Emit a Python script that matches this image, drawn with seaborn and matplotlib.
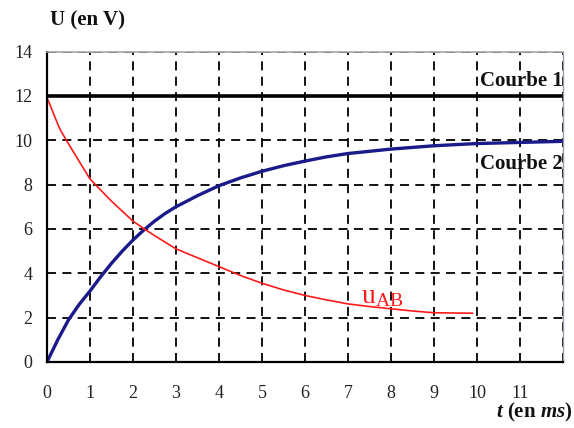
import numpy as np
import pandas as pd
import matplotlib
matplotlib.use('Agg')
import matplotlib.pyplot as plt
import seaborn as sns

# values
t_courbe1 = [0, 12]
u_courbe1 = [12, 12]

t_courbe2 = [0, 0.25, 0.5, 0.75, 1, 1.25, 1.5, 1.75, 2, 2.25, 2.5, 2.75,
             3, 3.5, 4, 4.5, 5, 5.5, 6, 6.5, 7, 7.5, 8, 9, 10, 11, 12]
u_courbe2 = [0, 1.0, 1.9, 2.6, 3.2, 3.85, 4.45, 5.0, 5.5, 5.95, 6.35, 6.7,
             7.0, 7.5, 7.95, 8.3, 8.6, 8.85, 9.06, 9.25, 9.4, 9.5, 9.6,
             9.75, 9.85, 9.9, 9.95]

t_uab = [0, 0.05, 0.15, 0.3, 0.45, 0.7, 1, 1.25, 1.5, 1.75, 2, 2.3, 2.5,
         3, 3.5, 4, 4.5, 5, 5.5, 6, 6.5, 7, 7.5, 8, 8.5, 9, 9.9]
u_uab = [11.9, 11.7, 11.2, 10.5, 10.0, 9.2, 8.25, 7.75, 7.25, 6.8, 6.35,
         5.95, 5.7, 5.1, 4.7, 4.3, 3.9, 3.55, 3.25, 3.0, 2.8, 2.62, 2.5,
         2.4, 2.3, 2.22, 2.2]

x_ticks = list(range(0, 13))
x_labels = [str(v) for v in range(0, 12)] + ['']
y_ticks = list(range(0, 15, 2))

sns.set_theme(style='white')
plt.rcParams['font.family'] = ['Liberation Serif', 'DejaVu Serif']
plt.rcParams['mathtext.fontset'] = 'custom'
plt.rcParams['mathtext.rm'] = 'Liberation Serif'
plt.rcParams['mathtext.it'] = 'Liberation Serif:italic'
plt.rcParams['mathtext.bf'] = 'Liberation Serif:bold'
plt.rcParams['mathtext.bfit'] = 'Liberation Serif:italic:bold'

fig = plt.figure(figsize=(5.74, 4.28), dpi=100)
ax = fig.add_axes([47 / 574, 66 / 428, 516 / 574, 310.5 / 428])

ax.set_axisbelow(True)
ax.grid(True, color='black', linestyle=(0, (5, 3.5)), linewidth=1.3)

df1 = pd.DataFrame({'t': t_courbe1, 'u': u_courbe1})
df2 = pd.DataFrame({'t': t_courbe2, 'u': u_courbe2})
df3 = pd.DataFrame({'t': t_uab, 'u': u_uab})

sns.lineplot(data=df1, x='t', y='u', ax=ax, color='black', linewidth=2.6)
sns.lineplot(data=df2, x='t', y='u', ax=ax, color='#1a1a8a', linewidth=2.4)
sns.lineplot(data=df3, x='t', y='u', ax=ax, color='#ff1a1a', linewidth=1.2)

ax.set_xlim(0, 12)
ax.set_ylim(0, 14)
ax.set_xticks(x_ticks)
ax.set_xticklabels(x_labels)
ax.set_yticks(y_ticks)
ax.tick_params(axis='both', direction='inout', length=11, width=1.3,
               color='black', labelsize=13, labelcolor='#222222')
ax.tick_params(axis='x', pad=11)
ax.tick_params(axis='y', pad=5)
ax.set_xlabel('')
ax.set_ylabel('')

for side in ['left', 'bottom']:
    ax.spines[side].set_color('black')
    ax.spines[side].set_linewidth(1.6)
ax.spines['top'].set_color('#a8a8a0')
ax.spines['top'].set_linewidth(1.2)
ax.spines['right'].set_color('#9a9ab8')
ax.spines['right'].set_linewidth(1.0)
ax.spines['right'].set_linestyle((0, (1, 1)))

ax.text(12, 12.2, 'Courbe 1', ha='right', va='bottom', fontsize=15,
        fontweight='bold', color='#111111')
ax.text(12, 9.4, 'Courbe 2', ha='right', va='top', fontsize=15,
        fontweight='bold', color='#111111')
ax.text(7.3, 2.4, r'$\mathrm{u}_{\mathrm{AB}}$', color='#ff1a1a',
        fontsize=20, ha='left', va='bottom')

fig.text(50 / 574, 1 - 20 / 428, 'U (en V)', ha='left', va='center',
         fontsize=15, fontweight='bold', color='#111111')
fig.text(572 / 574, 1 - 412 / 428, r'$\mathbfit{t}$ (en $\mathbfit{ms}$)',
         ha='right', va='center', fontsize=15, fontweight='bold',
         color='#111111')

fig.savefig('out.png', dpi=100)
plt.close(fig)
